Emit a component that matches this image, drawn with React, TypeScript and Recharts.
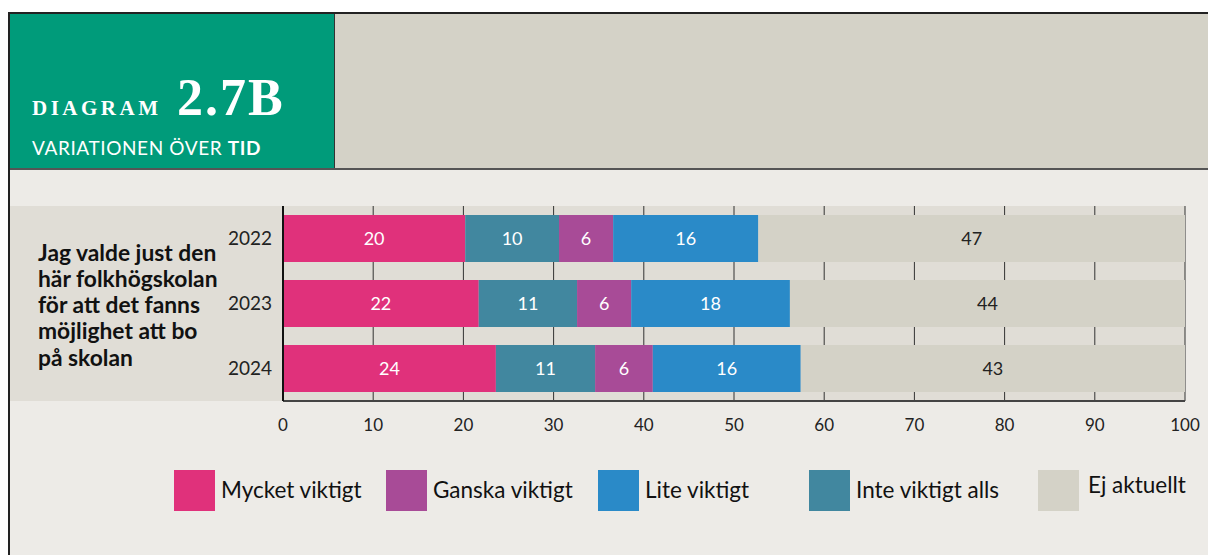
import React from 'react';
import { BarChart, Bar, XAxis, YAxis, CartesianGrid, LabelList } from 'recharts';

const years = ['2022', '2023', '2024'];
const mycketViktigt = [20.2, 21.7, 23.6];
const inteViktigtAlls = [10.4, 10.9, 11.0];
const ganskaViktigt = [6.0, 6.0, 6.4];
const liteViktigt = [16.1, 17.6, 16.4];
const ejAktuellt = [47.3, 43.8, 42.6];
const xTicks = [0, 10, 20, 30, 40, 50, 60, 70, 80, 90, 100];

const questionLines = ['Jag valde just den', 'här folkhögskolan', 'för att det fanns', 'möjlighet att bo', 'på skolan'];

const series = [
  { key: 'mycket', name: 'Mycket viktigt', color: '#e0317b', values: mycketViktigt, labelColor: '#ffffff' },
  { key: 'inte', name: 'Inte viktigt alls', color: '#41879f', values: inteViktigtAlls, labelColor: '#ffffff' },
  { key: 'ganska', name: 'Ganska viktigt', color: '#a84b97', values: ganskaViktigt, labelColor: '#ffffff' },
  { key: 'lite', name: 'Lite viktigt', color: '#2a8ac8', values: liteViktigt, labelColor: '#ffffff' },
  { key: 'ej', name: 'Ej aktuellt', color: '#d4d2c7', values: ejAktuellt, labelColor: '#222222' },
];

const legendOrder = ['mycket', 'ganska', 'lite', 'inte', 'ej'];
const legendX = [174, 386, 598, 809, 1038];

const data = years.map((y, i) => {
  const row: any = { year: y };
  series.forEach((s) => { row[s.key] = s.values[i]; });
  return row;
});

const FONT = 'Lato, "Open Sans", sans-serif';

const XTick = (props: any) => {
  const { x, y, payload } = props;
  return (
    <text x={x} y={y + 30} textAnchor="middle" fontSize={17} fontFamily={FONT} fill="#222">
      {payload.value}
    </text>
  );
};

const YTick = (props: any) => {
  const { x, y, payload } = props;
  return (
    <text x={x - 11} y={y} dy="0.33em" textAnchor="end" fontSize={19} fontFamily={FONT} fill="#222">
      {payload.value}
    </text>
  );
};

export default function App() {
  return (
    <div style={{ position: 'absolute', left: 0, top: 0, width: 1208, height: 555, background: '#fff', overflow: 'hidden' }}>
      <div style={{ position: 'absolute', left: 8, top: 12, width: 1200, height: 543, background: '#edebe7', borderLeft: '2px solid #222', borderTop: '2px solid #222', boxSizing: 'border-box' }} />
      <div style={{ position: 'absolute', left: 10, top: 14, width: 324, height: 154, background: '#009b7a' }} />
      <div style={{ position: 'absolute', left: 335, top: 14, width: 873, height: 154, background: '#d4d2c7' }} />
      <div style={{ position: 'absolute', left: 334, top: 14, width: 1, height: 154, background: '#333' }} />
      <div style={{ position: 'absolute', left: 10, top: 168, width: 1198, height: 2, background: '#555' }} />
      <svg style={{ position: 'absolute', left: 0, top: 0 }} width={1208} height={170}>
        <text x={32} y={115} fontSize={21} fontWeight="bold" letterSpacing={3.5} fontFamily='"Liberation Serif", serif' fill="#fff">DIAGRAM</text>
        <text x={177} y={115} fontSize={52} fontWeight="bold" letterSpacing={2} fontFamily='"Liberation Serif", serif' fill="#fff">2.7B</text>
        <text x={32} y={155} fontSize={19} letterSpacing={0.6} fontFamily={FONT} fill="#fff">
          VARIATIONEN ÖVER <tspan fontWeight="bold">TID</tspan>
        </text>
      </svg>
      <div style={{ position: 'absolute', left: 10, top: 206, width: 1175, height: 195, background: '#e0ddd6' }} />
      <div style={{ position: 'absolute', left: 38, top: 238.5, fontFamily: FONT, fontWeight: 700, fontSize: 22.8, lineHeight: '26.3px', color: '#111', whiteSpace: 'nowrap' }}>
        {questionLines.map((l) => (<div key={l}>{l}</div>))}
      </div>
      <div style={{ position: 'absolute', left: 10, top: 190 }}>
        <BarChart width={1198} height={260} data={data} layout="vertical" margin={{ top: 16, right: 23, left: 0, bottom: 19 }}>
          <CartesianGrid horizontal={false} vertical={true} stroke="#333" strokeWidth={1} />
          <XAxis type="number" domain={[0, 100]} ticks={xTicks} tickLine={false} tickSize={0} tickMargin={0} height={30}
            axisLine={{ stroke: '#444', strokeWidth: 2 }} tick={<XTick />} interval={0} allowDataOverflow />
          <YAxis type="category" dataKey="year" width={273} tickLine={false} tickSize={0} tickMargin={0}
            axisLine={{ stroke: '#111', strokeWidth: 2 }} tick={<YTick />} />
          {series.map((s) => (
            <Bar key={s.key} dataKey={s.key} name={s.name} stackId="a" fill={s.color} barSize={47} isAnimationActive={false}>
              <LabelList dataKey={s.key} position="center" formatter={(v: any) => Math.round(Number(v))}
                fill={s.labelColor} fontSize={18} fontFamily={FONT} />
            </Bar>
          ))}
        </BarChart>
      </div>
      {legendOrder.map((k, i) => {
        const s = series.find((x) => x.key === k)!;
        const isEj = k === 'ej';
        return (
          <div key={k} style={{ position: 'absolute', left: legendX[i], top: 470 }}>
            <div style={{ position: 'absolute', left: 0, top: 0, width: 41, height: 41, background: s.color }} />
            <div style={{ position: 'absolute', left: isEj ? 50 : 47, top: isEj ? 2 : 7, fontFamily: FONT, fontSize: 22.5, lineHeight: '26px', color: '#111', whiteSpace: 'nowrap' }}>{s.name}</div>
          </div>
        );
      })}
    </div>
  );
}
